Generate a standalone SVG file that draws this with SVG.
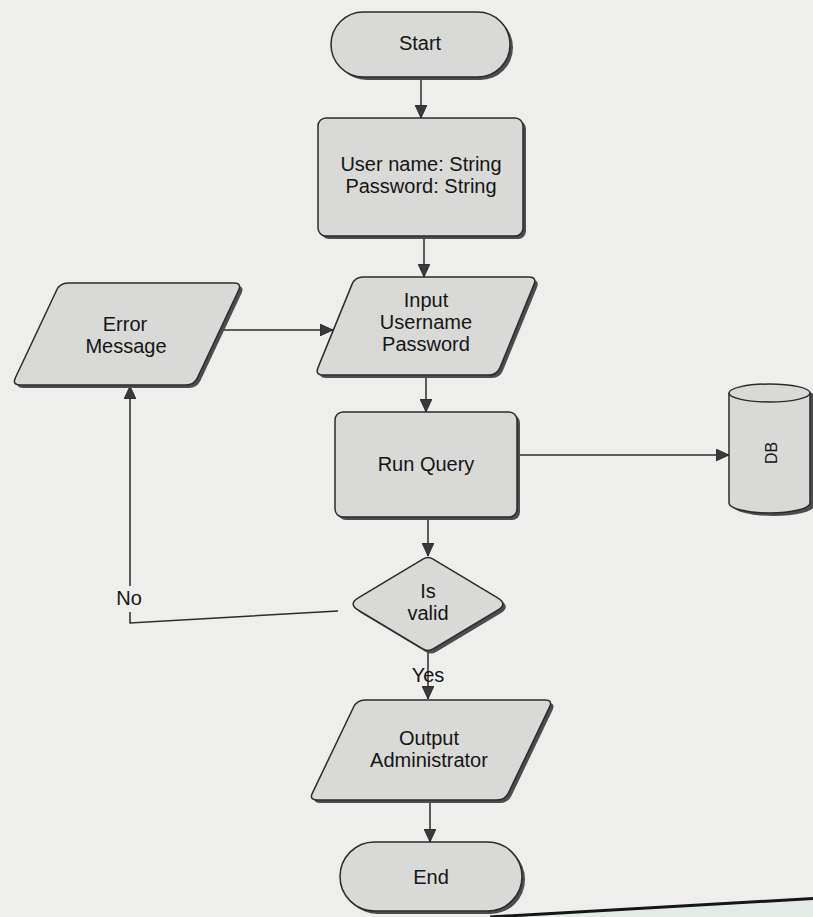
<svg xmlns="http://www.w3.org/2000/svg" width="813" height="917" viewBox="0 0 813 917">
  <style>
    .shape { fill: #d9d9d7; stroke: #2b2b2b; stroke-width: 1.5; }
    .shadow { fill: #4d4d4d; stroke: none; }
    .lbl { font-family: "Liberation Sans", Arial, sans-serif; font-size: 20px; fill: #151515; text-anchor: middle; }
    .db { font-size: 16px; }
    .conn { fill: none; stroke: #2b2b2b; stroke-width: 1.5; }
  </style>
  <defs>
    <marker id="arrow" markerUnits="userSpaceOnUse" markerWidth="13" markerHeight="12" refX="13" refY="6" orient="auto">
      <path d="M0,0 L13,6 L0,12 Z" fill="#3a3a3a" stroke="#222" stroke-width="0.8"/>
    </marker>
  </defs>

  <rect x="0" y="0" width="813" height="917" fill="#eeeeec"/>
  <path d="M490,917 L813,899 L813,917 Z" fill="#e4ebe7"/>
  <path d="M490,917 L813,898.5" fill="none" stroke="#151515" stroke-width="3"/>

  <g id="connectors">
    <path class="conn" d="M421,77 L421,118" marker-end="url(#arrow)"/>
    <path class="conn" d="M424,236 L424,277" marker-end="url(#arrow)"/>
    <path class="conn" d="M222,330 L333,330" marker-end="url(#arrow)"/>
    <path class="conn" d="M426,375 L426,412" marker-end="url(#arrow)"/>
    <path class="conn" d="M517,455 L729,455" marker-end="url(#arrow)"/>
    <path class="conn" d="M428,517 L428,556" marker-end="url(#arrow)"/>
    <path class="conn" d="M338,611 L130,623 L130,612 M130,586 L130,386" marker-end="url(#arrow)"/>
    <path class="conn" d="M428,652 L428,699" marker-end="url(#arrow)"/>
    <path class="conn" d="M430,800 L430,842" marker-end="url(#arrow)"/>
    <text class="lbl" x="129" y="605">No</text>
    <text class="lbl" x="428" y="682">Yes</text>
  </g>

  <g id="start">
    <rect class="shadow" x="334" y="15" width="179" height="65" rx="32.5"/>
    <rect class="shape" x="331" y="12" width="179" height="65" rx="32.5"/>
    <text class="lbl" x="420" y="50">Start</text>
  </g>

  <g id="declare">
    <rect class="shadow" x="321" y="121" width="205" height="118" rx="8"/>
    <rect class="shape" x="318" y="118" width="205" height="118" rx="8"/>
    <text class="lbl" x="421" y="171">User name: String</text>
    <text class="lbl" x="421" y="193">Password: String</text>
  </g>

  <g id="error">
    <path class="shadow" transform="translate(3,3)" d="M68,283 L234,283 Q242,283 238.6,290.2 L197.4,377.8 Q194,385 186,385 L20,385 Q12,385 15.4,377.8 L56.6,290.2 Q60,283 68,283 Z"/>
    <path class="shape" d="M68,283 L234,283 Q242,283 238.6,290.2 L197.4,377.8 Q194,385 186,385 L20,385 Q12,385 15.4,377.8 L56.6,290.2 Q60,283 68,283 Z"/>
    <text class="lbl" x="125" y="331">Error</text>
    <text class="lbl" x="126" y="353">Message</text>
  </g>

  <g id="input">
    <path class="shadow" transform="translate(3,3)" d="M363,277 L529,277 Q537,277 534,284.4 L500,367.6 Q497,375 489,375 L323,375 Q315,375 318,367.6 L352,284.4 Q355,277 363,277 Z"/>
    <path class="shape" d="M363,277 L529,277 Q537,277 534,284.4 L500,367.6 Q497,375 489,375 L323,375 Q315,375 318,367.6 L352,284.4 Q355,277 363,277 Z"/>
    <text class="lbl" x="426" y="307">Input</text>
    <text class="lbl" x="426" y="329">Username</text>
    <text class="lbl" x="426" y="351">Password</text>
  </g>

  <g id="runquery">
    <rect class="shadow" x="338" y="415" width="182" height="105" rx="8"/>
    <rect class="shape" x="335" y="412" width="182" height="105" rx="8"/>
    <text class="lbl" x="426" y="471">Run Query</text>
  </g>

  <g id="db">
    <path class="shadow" transform="translate(4,3)" d="M729,393 A40.5,9 0 0 1 810,393 L810,503 A40.5,10 0 0 1 729,503 Z"/>
    <path class="shape" d="M729,393 A40.5,9 0 0 1 810,393 L810,503 A40.5,10 0 0 1 729,503 Z"/>
    <path class="conn" d="M729,393 A40.5,9 0 0 0 810,393"/>
    <text class="lbl db" transform="translate(771,453) rotate(-90)" x="0" y="6">DB</text>
  </g>

  <g id="isvalid">
    <path class="shadow" transform="translate(3,3)" d="M422.9,559.1 Q428,556 433.1,559.1 L497.7,597.8 Q508,604 497.7,610.2 L433.1,648.9 Q428,652 422.9,648.9 L358.3,610.2 Q348,604 358.3,597.8 Z"/>
    <path class="shape" d="M422.9,559.1 Q428,556 433.1,559.1 L497.7,597.8 Q508,604 497.7,610.2 L433.1,648.9 Q428,652 422.9,648.9 L358.3,610.2 Q348,604 358.3,597.8 Z"/>
    <text class="lbl" x="428" y="598">Is</text>
    <text class="lbl" x="428" y="620">valid</text>
  </g>

  <g id="output">
    <path class="shadow" transform="translate(3,3)" d="M365,700 L545,700 Q553,700 549.5,707.2 L508.5,792.8 Q505,800 497,800 L317,800 Q309,800 312.5,792.8 L353.5,707.2 Q357,700 365,700 Z"/>
    <path class="shape" d="M365,700 L545,700 Q553,700 549.5,707.2 L508.5,792.8 Q505,800 497,800 L317,800 Q309,800 312.5,792.8 L353.5,707.2 Q357,700 365,700 Z"/>
    <text class="lbl" x="429" y="745">Output</text>
    <text class="lbl" x="429" y="767">Administrator</text>
  </g>

  <g id="end">
    <rect class="shadow" x="343" y="845" width="182" height="69" rx="34.5"/>
    <rect class="shape" x="340" y="842" width="182" height="69" rx="34.5"/>
    <text class="lbl" x="431" y="884">End</text>
  </g>
</svg>
